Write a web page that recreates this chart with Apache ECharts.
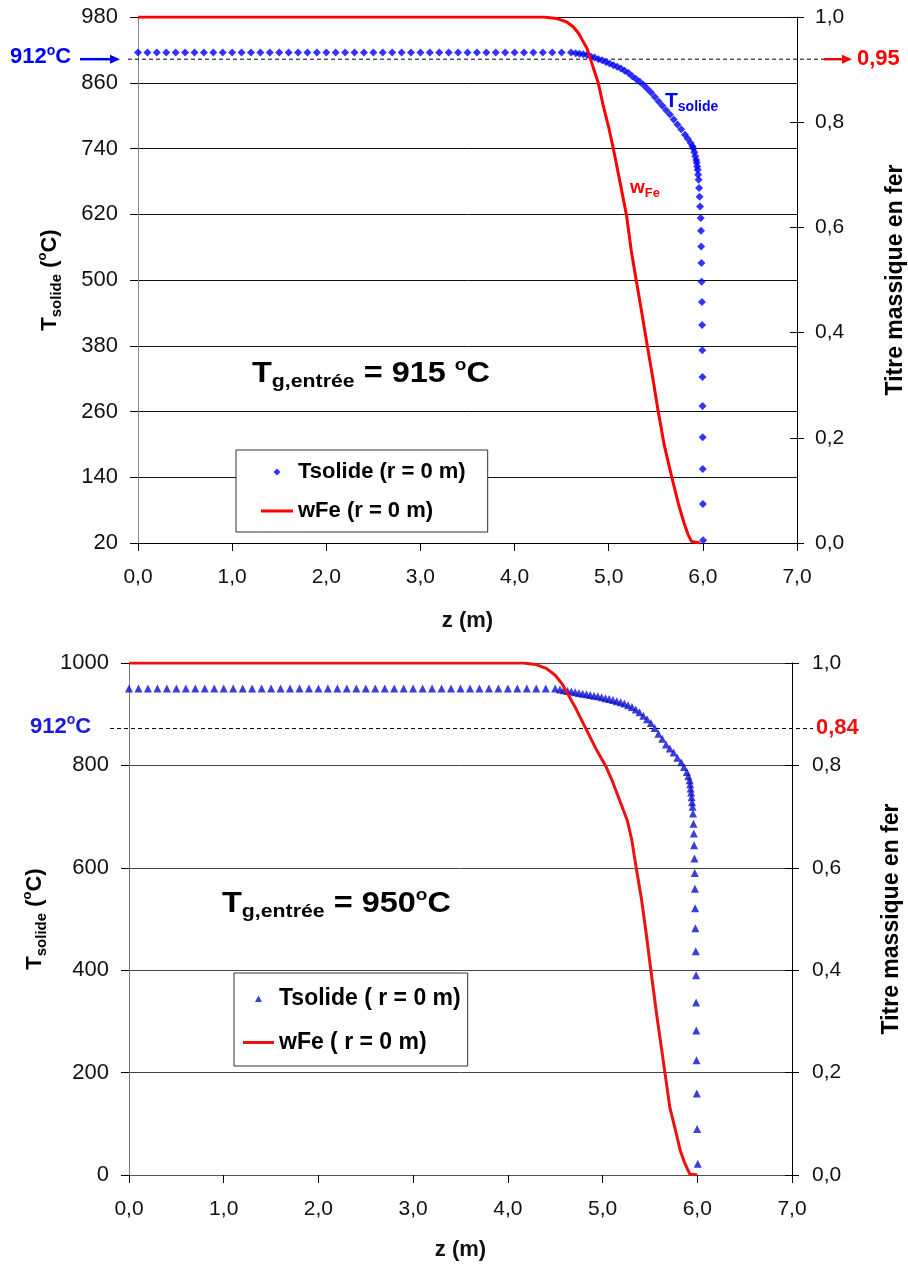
<!DOCTYPE html>
<html><head><meta charset="utf-8">
<script src="https://cdn.jsdelivr.net/npm/echarts@6/dist/echarts.min.js"></script>
<style>html,body{margin:0;padding:0;background:#fff}#c{width:908px;height:1272px}</style>
</head><body><div id="c"></div>
<script>
// ---------- TOP CHART : Tg,entrée = 915 °C ----------
const topTsolideZ = [0,0.1,0.2,0.3,0.4,0.5,0.6,0.7,0.8,0.9,1.0,1.1,1.2,1.3,1.4,1.5,1.6,1.7,1.8,1.9,2.0,2.1,2.2,2.3,2.4,2.5,2.6,2.7,2.8,2.9,3.0,3.1,3.2,3.3,3.4,3.5,3.6,3.7,3.8,3.9,4.0,4.1,4.2,4.3,4.4,4.5,4.6,
  4.65,4.69,4.73,4.77,4.81,4.85,4.89,4.93,4.97,5.01,5.05,5.09,5.13,5.17,5.21,5.25,5.29,5.33,5.37,5.41,5.45,5.49,5.53,5.57,5.61,5.65,5.69,5.73,5.77,5.81,
  5.84,5.87,5.89,5.90,5.91,5.92,5.93,
  5.935,5.94,5.945,5.95,5.955,5.96,5.965,5.97,5.977,5.98,5.982,5.985,5.987,5.99,5.992,5.994,5.996,5.997,5.998,5.999,6.0,6.003];
const topTsolideT = [915,915,915,915,915,915,915,915,915,915,915,915,915,915,915,915,915,915,915,915,915,915,915,915,915,915,915,915,915,915,915,915,915,915,915,915,915,915,915,915,915,915,915,915,915,915,915,
  914,913,912,910.5,908,906,903,901,898,895,892,889,886,882,878,872,867,862,856,849,842,834,826,818,810,802,793,784,775,765,
  758,750,744,740,733,726,719,
  714,707,701,692,683,668,652,634,613,590,561,531,497,460,418,372,323,270,213,155,91,25];
const topWFeZ = [0,4.30,4.45,4.55,4.62,4.68,4.72,4.77,4.81,4.85,4.89,4.94,5.00,5.05,5.12,5.19,5.24,5.29,5.35,5.41,5.47,5.52,5.59,5.67,5.74,5.80,5.845,5.88,5.90,5.97];
const topWFe  = [1,1,0.997,0.991,0.982,0.969,0.956,0.94,0.918,0.896,0.874,0.833,0.79,0.749,0.686,0.622,0.555,0.502,0.439,0.375,0.312,0.256,0.186,0.125,0.075,0.038,0.015,0.003,0,0];
const topRefT = 903;            // dashed guide drawn near 912 °C
const topLeftTicks = {min:20, max:980, interval:120};

// ---------- BOTTOM CHART : Tg,entrée = 950 °C ----------
const botTsolideZ = [0,0.1,0.2,0.3,0.4,0.5,0.6,0.7,0.8,0.9,1.0,1.1,1.2,1.3,1.4,1.5,1.6,1.7,1.8,1.9,2.0,2.1,2.2,2.3,2.4,2.5,2.6,2.7,2.8,2.9,3.0,3.1,3.2,3.3,3.4,3.5,3.6,3.7,3.8,3.9,4.0,4.1,4.2,4.3,4.4,4.5,
  4.55,4.59,4.63,4.67,4.71,4.75,4.79,4.83,4.87,4.91,4.95,4.99,5.03,5.07,5.11,5.15,5.19,5.23,5.27,5.31,5.35,5.39,5.43,5.47,5.51,5.55,5.59,5.63,5.67,5.71,5.75,5.79,5.83,
  5.86,5.89,5.905,5.92,5.925,5.93,5.935,5.94,5.945,5.95,5.955,5.96,5.963,5.966,5.97,5.973,5.975,5.977,5.98,5.984,5.987,5.988,5.99,5.992,5.995,5.998,6.005];
const botTsolideT = [950,950,950,950,950,950,950,950,950,950,950,950,950,950,950,950,950,950,950,950,950,950,950,950,950,950,950,950,950,950,950,950,950,950,950,950,950,950,950,950,950,950,950,950,950,950,
  948,947,945.5,944.5,943,941.5,940,939,937.5,936,935,933,931,929.5,927.5,925.5,923.5,921,917.5,914,909,904,897,890,883,873,862,852,841,833,825,815,806,
  797,787,779,771,763,755,747,738,728,719,706,686,667,644,618,590,559,521,482,437,390,337,282,224,159,90,22];
const botWFeZ = [0,4.16,4.30,4.41,4.50,4.57,4.64,4.71,4.78,4.85,4.94,5.03,5.10,5.18,5.26,5.31,5.354,5.41,5.456,5.51,5.57,5.66,5.71,5.77,5.82,5.87,5.92,6.00];
const botWFe  = [1,1,0.997,0.989,0.976,0.96,0.937,0.914,0.888,0.862,0.829,0.8,0.771,0.732,0.693,0.653,0.601,0.54,0.478,0.4,0.315,0.198,0.132,0.087,0.048,0.022,0.002,0];
const botRefT = 872;            // dashed guide drawn near 912 °C
const botLeftTicks = {min:0, max:1000, interval:200};

const zTicks = {min:0, max:7, interval:1};
const wTicks = {min:0, max:1, interval:0.2};

// ---------- helpers ----------
const F = '"Liberation Sans", Arial, Helvetica, sans-serif';
const comma = v => v.toFixed(1).replace('.', ',');
const plain = v => String(v);
const pairs = (xs, ys) => xs.map((x, i) => [x, ys[i]]);

function xAxisDef(grid, gap, lineColor) {
  return {gridIndex:grid, type:'value', min:zTicks.min, max:zTicks.max, interval:zTicks.interval,
    axisLine:{show:true, onZero:false, lineStyle:{color:lineColor, width:1}},
    axisTick:{show:true, length:8, lineStyle:{color:'#000'}},
    axisLabel:{formatter:comma, fontSize:21, margin:24, color:'#111', fontFamily:F},
    splitLine:{show:false},
    name:'z (m)', nameLocation:'middle', nameGap:gap,
    nameTextStyle:{fontSize:22, fontWeight:'bold', color:'#111', fontFamily:F}};
}
const leftNameRich = {
  T:{fontSize:22, fontWeight:'bold', fontFamily:F, color:'#000', lineHeight:28},
  s:{fontSize:15, fontWeight:'bold', fontFamily:F, color:'#000', lineHeight:5, verticalAlign:'bottom'},
  p:{fontSize:22, fontWeight:'bold', fontFamily:F, color:'#000', lineHeight:28},
  o:{fontSize:13, fontWeight:'bold', fontFamily:F, color:'#000', lineHeight:16, verticalAlign:'top'}
};
function leftAxisDef(grid, t, gap, lineColor, gridColor) {
  return {gridIndex:grid, type:'value', position:'left', min:t.min, max:t.max, interval:t.interval,
    axisLine:{show:true, lineStyle:{color:lineColor, width:1}},
    axisTick:{show:true, length:8, lineStyle:{color:'#000'}},
    axisLabel:{formatter:plain, fontSize:22, margin:20, color:'#111', fontFamily:F},
    splitLine:{show:true, lineStyle:{color:gridColor, width:1}},
    name:'{T|T}{s|solide}{p| (}{o|o}{p|C)}', nameLocation:'middle', nameRotate:90, nameGap:gap,
    nameTextStyle:{rich:leftNameRich}};
}
function rightAxisDef(grid, gap, margin) {
  return {gridIndex:grid, type:'value', position:'right', min:wTicks.min, max:wTicks.max, interval:wTicks.interval,
    axisLine:{show:true, lineStyle:{color:'#000', width:1}},
    axisTick:{show:true, length:7, lineStyle:{color:'#000'}},
    axisLabel:{formatter:comma, fontSize:21, margin:margin, color:'#111', fontFamily:F},
    splitLine:{show:false},
    name:'Titre massique en fer', nameLocation:'middle', nameRotate:90, nameGap:gap,
    nameTextStyle:{fontSize:23, fontWeight:'bold', color:'#000', fontFamily:F}};
}
function rightInnerTicks(grid) {
  return {gridIndex:grid, type:'value', position:'right', min:wTicks.min, max:wTicks.max, interval:wTicks.interval,
    axisLine:{show:false}, axisTick:{show:true, inside:true, length:7, lineStyle:{color:'#000'}},
    axisLabel:{show:false}, splitLine:{show:false}};
}
// legend icons: small glyph inside a fixed-size box (tiny corner specks fix the box)
const diamondIcon = 'path://M0,0L0.05,0L0,0.05ZM32,8L31.95,8L32,7.95ZM16,0.5L19.5,4L16,7.5L12.5,4Z';
const triangleIcon = 'path://M0,0L0.05,0L0,0.05ZM31,8L30.95,8L31,7.95ZM15.5,1L19,7.5L12,7.5Z';

const chart = echarts.init(document.getElementById('c'), null, {renderer:'canvas'});
chart.setOption({
  animation:false,
  backgroundColor:'#fff',
  grid:[{left:138, top:17, width:659, height:526, outerBoundsMode:'none', containLabel:false},
        {left:129, top:663, width:663, height:512, outerBoundsMode:'none', containLabel:false}],
  xAxis:[xAxisDef(0, 67, '#000'), xAxisDef(1, 64, '#555')],
  yAxis:[
    leftAxisDef(0, topLeftTicks, 74, '#888', '#111'),
    rightAxisDef(0, 87, 18),
    rightInnerTicks(0),
    leftAxisDef(1, botLeftTicks, 70, '#777', '#444'),
    rightAxisDef(1, 88, 20),
    rightInnerTicks(1)
  ],
  legend:[
    {left:236, top:450, orient:'vertical', padding:[11,22,10,25], itemGap:17, itemWidth:32, itemHeight:8,
     borderColor:'#333', borderWidth:1, backgroundColor:'#fff', selectedMode:false,
     textStyle:{fontSize:22, fontWeight:'bold', color:'#000', fontFamily:F, lineHeight:22},
     data:[{name:'Tsolide (r = 0 m)', icon:diamondIcon}, {name:'wFe (r = 0 m)', icon:'path://M0,0H32V3H0Z'}]},
    {left:234, top:973, orient:'vertical', padding:[14,7,12,9], itemGap:21, itemWidth:31, itemHeight:8,
     borderColor:'#333', borderWidth:1, backgroundColor:'#fff', selectedMode:false,
     textStyle:{fontSize:23, fontWeight:'bold', color:'#000', fontFamily:F, lineHeight:22},
     data:[{name:'Tsolide ( r = 0 m)', icon:triangleIcon}, {name:'wFe ( r = 0 m)', icon:'path://M0,0H31V3H0Z'}]}
  ],
  series:[
    {name:'Tsolide (r = 0 m)', type:'scatter', xAxisIndex:0, yAxisIndex:0, symbol:'diamond', symbolSize:8,
     itemStyle:{color:'#0000ff'}, data:pairs(topTsolideZ, topTsolideT), z:2},
    {name:'wFe (r = 0 m)', type:'line', xAxisIndex:0, yAxisIndex:1, showSymbol:false, symbol:'none',
     lineStyle:{color:'#ff0000', width:3, join:'round'}, itemStyle:{color:'#ff0000'}, data:pairs(topWFeZ, topWFe), z:3},
    {name:'Tsolide ( r = 0 m)', type:'scatter', xAxisIndex:1, yAxisIndex:3, symbol:'triangle', symbolSize:8,
     itemStyle:{color:'#0c0cd0'}, data:pairs(botTsolideZ, botTsolideT), z:2},
    {name:'wFe ( r = 0 m)', type:'line', xAxisIndex:1, yAxisIndex:4, showSymbol:false, symbol:'none',
     lineStyle:{color:'#ee1111', width:3, join:'round'}, itemStyle:{color:'#ee1111'}, data:pairs(botWFeZ, botWFe), z:3}
  ]
});

// ---------- annotations ----------
const yT = chart.convertToPixel({yAxisIndex:0}, topRefT);
const yB = chart.convertToPixel({yAxisIndex:3}, botRefT);
const bold = (size, color) => ({fontSize:size, fontWeight:'bold', fontFamily:F, fill:color, color:color});
function txt(x, y, text, rich, opts) {
  return Object.assign({type:'text', x:x, y:y, z:50,
    style:{text:text, textAlign:'left', textVerticalAlign:'middle', rich:rich}}, opts || {});
}
const sup912 = c => ({a:Object.assign(bold(22,c),{lineHeight:26}), o:Object.assign(bold(14,c),{lineHeight:15, verticalAlign:'top'})});
const tgRich = {
  T:Object.assign(bold(29,'#000'),{lineHeight:34}),
  s:Object.assign(bold(19,'#000'),{lineHeight:21, verticalAlign:'bottom'}),
  a:Object.assign(bold(29,'#000'),{lineHeight:34}),
  o:Object.assign(bold(17,'#000'),{lineHeight:18, verticalAlign:'top'})
};
chart.setOption({graphic:[
  // top guide line + arrows
  {type:'line', z:1, shape:{x1:128, y1:yT, x2:824, y2:yT}, style:{stroke:'#000', lineWidth:1, lineDash:[4,3]}},
  {type:'line', z:50, shape:{x1:80, y1:yT, x2:112, y2:yT}, style:{stroke:'#0000ff', lineWidth:2.5}},
  {type:'polygon', z:50, shape:{points:[[110,yT-4.5],[120,yT],[110,yT+4.5]]}, style:{fill:'#0000ff'}},
  {type:'line', z:50, shape:{x1:824, y1:yT, x2:844, y2:yT}, style:{stroke:'#ff0000', lineWidth:2.5}},
  {type:'polygon', z:50, shape:{points:[[842,yT-4.5],[852,yT],[842,yT+4.5]]}, style:{fill:'#ff0000'}},
  txt(10, yT-2, '{a|912}{o|o}{a|C}', sup912('#0000ff')),
  txt(857, yT, '{a|0,95}', {a:bold(22,'#ff0000')}),
  txt(665, 101, '{T|T}{s|solide}', {T:Object.assign(bold(21,'#0000ff'),{lineHeight:26}), s:Object.assign(bold(14,'#0000ff'),{lineHeight:15, verticalAlign:'bottom'})}),
  txt(630, 188, '{T|w}{s|Fe}', {T:Object.assign(bold(19,'#ff0000'),{lineHeight:24}), s:Object.assign(bold(13,'#ff0000'),{lineHeight:6, verticalAlign:'bottom'})}),
  txt(252, 374, '{T|T}{s|g,entrée}{a| = 915 }{o|o}{a|C}', tgRich, {scaleX:1.12}),
  // bottom guide line + labels
  {type:'line', z:1, shape:{x1:110, y1:yB, x2:813, y2:yB}, style:{stroke:'#000', lineWidth:1, lineDash:[4,3]}},
  txt(30, yB-2, '{a|912}{o|o}{a|C}', sup912('#1a1ad8')),
  txt(816, yB-1, '{a|0,84}', {a:bold(22,'#ee1111')}),
  txt(222, 904, '{T|T}{s|g,entrée}{a| = 950}{o|o}{a|C}', tgRich, {scaleX:1.12})
]});
</script>
</body></html>
